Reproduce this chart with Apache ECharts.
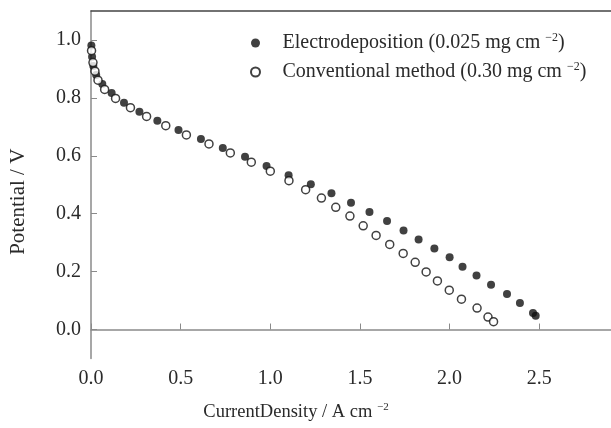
<!DOCTYPE html>
<html>
<head>
<meta charset="utf-8">
<script src="https://cdn.jsdelivr.net/npm/echarts@6/dist/echarts.min.js"></script>
<style>html,body{margin:0;padding:0;background:#fff}#c{width:611px;height:428px}</style>
</head>
<body>
<div id="c"></div>
<script>
const elecX = [0.002,0.006,0.013,0.029,0.063,0.115,0.184,0.27,0.37,0.488,0.613,0.735,0.859,0.979,1.102,1.226,1.341,1.45,1.553,1.651,1.743,1.827,1.915,2.0,2.072,2.15,2.231,2.32,2.392,2.465,2.48];
const elecY = [0.981,0.942,0.91,0.879,0.848,0.817,0.783,0.752,0.721,0.689,0.658,0.627,0.597,0.565,0.533,0.502,0.471,0.438,0.406,0.375,0.342,0.311,0.28,0.25,0.217,0.187,0.155,0.123,0.092,0.057,0.048];
const convX = [0.003,0.011,0.022,0.039,0.076,0.137,0.22,0.31,0.417,0.532,0.658,0.777,0.894,1.0,1.104,1.197,1.285,1.365,1.444,1.518,1.59,1.666,1.741,1.808,1.869,1.932,1.998,2.066,2.153,2.214,2.245];
const convY = [0.963,0.922,0.892,0.861,0.829,0.798,0.766,0.736,0.704,0.672,0.641,0.61,0.578,0.547,0.514,0.483,0.454,0.422,0.392,0.358,0.325,0.294,0.263,0.232,0.199,0.168,0.136,0.105,0.074,0.043,0.027];
const xTicks = [0, 0.5, 1.0, 1.5, 2.0, 2.5];
const yTicks = [0, 0.2, 0.4, 0.6, 0.8, 1.0];
const seriesNames = ['Electrodeposition', 'Conventional method'];
const loadings = ['0.025', '0.30'];

const FONT = '"Liberation Serif", "DejaVu Serif", serif';
const TXT = '#2a2a2a';
const MARK = '#111111';
const chart = echarts.init(document.getElementById('c'));
const zip = (xs, ys) => xs.map((x, i) => [x, ys[i]]);

chart.setOption({
  animation: false,
  grid: { left: 88, top: 11, right: 0, bottom: 62, containLabel: false },
  legend: {
    orient: 'vertical',
    left: 245, top: 27,
    itemWidth: 44, itemHeight: 9, itemGap: 7,
    data: seriesNames,
    formatter: function (name) {
      const i = seriesNames.indexOf(name);
      return '{t|' + name + ' (' + loadings[i] + ' mg cm }{s|\u22122}{t|)}';
    },
    textStyle: {
      rich: {
        t: { fontFamily: FONT, fontSize: 20, color: TXT, lineHeight: 21 },
        s: { fontFamily: FONT, fontSize: 12, color: TXT, padding: [0, 0, 10, 0], lineHeight: 21 }
      }
    }
  },
  xAxis: [{
    type: 'value', min: 0, max: 2.9,
    name: '{t|CurrentDensity / A cm }{s|\u22122}',
    nameLocation: 'middle', nameGap: 44,
    nameTextStyle: {
      padding: [0, 110, 0, 0],
      rich: {
        t: { fontFamily: FONT, fontSize: 18.5, color: TXT, lineHeight: 20 },
        s: { fontFamily: FONT, fontSize: 11, color: TXT, padding: [0, 0, 10, 0], lineHeight: 20 }
      }
    },
    axisLine: { show: true, lineStyle: { color: '#8a8a8a', width: 1.5 } },
    axisTick: { show: true, inside: true, length: 6, customValues: xTicks, lineStyle: { color: '#8a8a8a' } },
    axisLabel: { customValues: xTicks, margin: 10, fontFamily: FONT, fontSize: 20, color: TXT,
      formatter: v => v.toFixed(1) },
    splitLine: { show: false }
  }, {
    type: 'value', min: 0, max: 2.9, position: 'top',
    axisLine: { show: true, lineStyle: { color: '#444', width: 1.5 } },
    axisTick: { show: false }, axisLabel: { show: false }, splitLine: { show: false }
  }],
  yAxis: {
    type: 'value', min: -0.1, max: 1.1,
    name: 'Potential / V',
    nameLocation: 'middle', nameGap: 62, nameRotate: 90,
    nameTextStyle: { fontFamily: FONT, fontSize: 21, color: TXT, padding: [0, 34, 0, 0] },
    axisLine: { show: true, lineStyle: { color: '#8a8a8a', width: 1.5 } },
    axisTick: { show: true, inside: true, length: 6, customValues: yTicks, lineStyle: { color: '#8a8a8a' } },
    axisLabel: { customValues: yTicks, margin: 10, fontFamily: FONT, fontSize: 20, color: TXT,
      formatter: v => v.toFixed(1) },
    splitLine: { show: false }
  },
  series: [{
    name: seriesNames[0], type: 'scatter', symbol: 'circle', symbolSize: 8,
    itemStyle: { color: MARK },
    data: zip(elecX, elecY)
  }, {
    name: seriesNames[1], type: 'scatter', symbol: 'circle', symbolSize: 8,
    itemStyle: { color: '#ffffff', borderColor: MARK, borderWidth: 1.5 },
    data: zip(convX, convY)
  }]
});
</script>
</body>
</html>
